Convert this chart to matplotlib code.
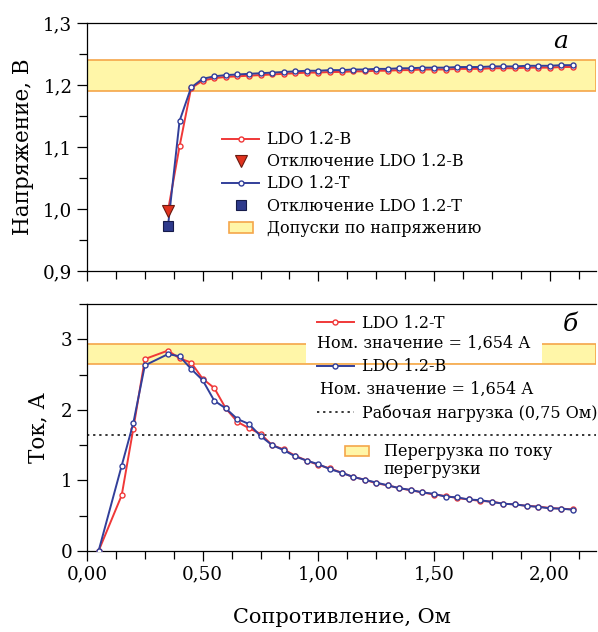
import matplotlib
matplotlib.use('Agg')
import matplotlib.pyplot as plt
from matplotlib.lines import Line2D
from matplotlib.patches import Patch, Rectangle
from matplotlib.legend import Legend
from matplotlib.legend_handler import HandlerPatch
from matplotlib.ticker import MultipleLocator, FuncFormatter

plt.rcParams['font.family'] = ['DejaVu Serif']

# верхний график: выходное напряжение
r_volt = [0.35, 0.40, 0.45, 0.50, 0.55, 0.60, 0.65, 0.70, 0.75, 0.80, 0.85, 0.90,
          0.95, 1.00, 1.05, 1.10, 1.15, 1.20, 1.25, 1.30, 1.35, 1.40, 1.45, 1.50,
          1.55, 1.60, 1.65, 1.70, 1.75, 1.80, 1.85, 1.90, 1.95, 2.00, 2.05, 2.10]
v_b = [0.997, 1.101, 1.195, 1.207, 1.211, 1.213, 1.214, 1.215, 1.216, 1.217, 1.218, 1.219,
       1.220, 1.220, 1.221, 1.221, 1.222, 1.222, 1.223, 1.223, 1.224, 1.224, 1.225, 1.225,
       1.225, 1.226, 1.226, 1.226, 1.227, 1.227, 1.227, 1.228, 1.228, 1.228, 1.229, 1.229]
v_t = [0.972, 1.142, 1.196, 1.210, 1.214, 1.216, 1.217, 1.218, 1.219, 1.220, 1.221, 1.222,
       1.223, 1.223, 1.224, 1.224, 1.225, 1.225, 1.226, 1.226, 1.227, 1.227, 1.228, 1.228,
       1.228, 1.229, 1.229, 1.229, 1.230, 1.230, 1.230, 1.231, 1.231, 1.231, 1.232, 1.232]
v_tol = (1.19, 1.24)

# нижний график: ток нагрузки
r_cur = [0.05, 0.15, 0.20, 0.25, 0.35, 0.40, 0.45, 0.50, 0.55, 0.60, 0.65, 0.70, 0.75, 0.80,
         0.85, 0.90, 0.95, 1.00, 1.05, 1.10, 1.15, 1.20, 1.25, 1.30, 1.35, 1.40, 1.45, 1.50,
         1.55, 1.60, 1.65, 1.70, 1.75, 1.80, 1.85, 1.90, 1.95, 2.00, 2.05, 2.10]
i_t = [0.0, 0.79, 1.73, 2.72, 2.84, 2.73, 2.67, 2.44, 2.31, 2.02, 1.83, 1.74, 1.66, 1.50,
       1.44, 1.35, 1.28, 1.22, 1.17, 1.11, 1.05, 1.01, 0.96, 0.93, 0.89, 0.86, 0.83, 0.80,
       0.78, 0.75, 0.73, 0.71, 0.70, 0.67, 0.66, 0.64, 0.63, 0.61, 0.60, 0.59]
i_b = [0.0, 1.21, 1.81, 2.63, 2.79, 2.76, 2.58, 2.42, 2.13, 2.02, 1.87, 1.80, 1.63, 1.50,
       1.43, 1.34, 1.28, 1.23, 1.16, 1.11, 1.05, 1.01, 0.97, 0.93, 0.89, 0.865, 0.83, 0.81,
       0.77, 0.76, 0.73, 0.72, 0.695, 0.67, 0.66, 0.64, 0.625, 0.605, 0.60, 0.585]
i_ovl = (2.65, 2.94)
i_work = 1.64

red = '#f03838'
blue = '#323f9a'
band_fc = '#fff6a8'
band_ec = '#f5a64a'
fs_tick = 13.2
fs_leg = 11.5


def small_box(legend, orig_handle, xdescent, ydescent, width, height, fontsize):
    return Rectangle((-xdescent + 0.17 * width, -ydescent), 0.66 * width, 0.95 * height)


def style_axes(ax):
    ax.spines['right'].set_visible(False)
    for s in ax.spines.values():
        s.set_linewidth(0.9)
    ax.set_xlim(0, 2.2)
    ax.xaxis.set_major_locator(MultipleLocator(0.5))
    ax.xaxis.set_minor_locator(MultipleLocator(0.125))
    ax.xaxis.set_major_formatter(FuncFormatter(lambda v, p: f'{v:.2f}'.replace('.', ',')))
    ax.tick_params(which='major', direction='out', length=7, width=0.9, labelsize=fs_tick, right=False)
    ax.tick_params(which='minor', direction='out', length=6, width=0.9, right=False)


def one_entry(ax, handle, label, x, y):
    leg = Legend(ax, [handle], [label], loc='center left', bbox_to_anchor=(x, y), frameon=False,
                 borderpad=0, borderaxespad=0, handlelength=2.3, handletextpad=0.5,
                 fontsize=fs_leg, handler_map={Patch: HandlerPatch(patch_func=small_box)})
    ax.add_artist(leg)
    return leg


fig = plt.figure(figsize=(5.98, 6.32), dpi=100)
ax1 = fig.add_axes([87 / 598, 1 - 271 / 632, 509 / 598, 248 / 632])
ax2 = fig.add_axes([87 / 598, 1 - 551 / 632, 509 / 598, 247 / 632])

# ---- а: напряжение ----
style_axes(ax1)
ax1.axhspan(v_tol[0], v_tol[1], facecolor=band_fc, edgecolor=band_ec, lw=1.2, zorder=1)
ax1.plot(r_volt, v_b, color=red, lw=1.4, marker='o', ms=3.6, mfc='white', mec=red, mew=1.0,
         markevery=slice(1, None), zorder=3)
ax1.plot(r_volt, v_t, color=blue, lw=1.4, marker='o', ms=3.6, mfc='white', mec=blue, mew=1.0,
         markevery=slice(1, None), zorder=3)
ax1.plot(r_volt[0], v_b[0], marker='v', ms=8, color='#e0321e', mec='#6a1a10', mew=0.8, ls='none', zorder=4)
ax1.plot(r_volt[0], v_t[0], marker='s', ms=6.5, color='#2e3a8c', mec='#161b4a', mew=0.8, ls='none', zorder=4)
ax1.set_ylim(0.9, 1.3)
ax1.yaxis.set_major_locator(MultipleLocator(0.1))
ax1.yaxis.set_minor_locator(MultipleLocator(0.05))
ax1.yaxis.set_major_formatter(FuncFormatter(lambda v, p: f'{v:.1f}'.replace('.', ',')))
ax1.tick_params(labelbottom=False)
ax1.set_ylabel('Напряжение, В', fontsize=15.5)
ax1.yaxis.set_label_coords(-0.104, 0.5)
ax1.text(0.93, 0.925, 'а', style='italic', fontsize=18, transform=ax1.transAxes, ha='center', va='center')

h_top = [
    Line2D([], [], color=red, lw=1.4, marker='o', ms=3.6, mfc='white', mec=red, mew=1.0),
    Line2D([], [], ls='none', marker='v', ms=8, color='#e0321e', mec='#6a1a10', mew=0.8),
    Line2D([], [], color=blue, lw=1.4, marker='o', ms=3.6, mfc='white', mec=blue, mew=1.0),
    Line2D([], [], ls='none', marker='s', ms=6.5, color='#2e3a8c', mec='#161b4a', mew=0.8),
    Patch(facecolor=band_fc, edgecolor=band_ec, lw=1.2),
]
l_top = ['LDO 1.2-B', 'Отключение LDO 1.2-B', 'LDO 1.2-T', 'Отключение LDO 1.2-T',
         'Допуски по напряжению']
ax1.legend(h_top, l_top, loc='center left', bbox_to_anchor=(0.266, 0.351), frameon=False,
           borderpad=0, borderaxespad=0, handlelength=2.3, handletextpad=0.5,
           labelspacing=0.32, fontsize=fs_leg,
           handler_map={Patch: HandlerPatch(patch_func=small_box)})

# ---- б: ток ----
style_axes(ax2)
ax2.axhspan(i_ovl[0], i_ovl[1], facecolor=band_fc, edgecolor=band_ec, lw=1.2, zorder=1)
ax2.axhline(i_work, color='black', lw=1.1, ls=(0, (1.5, 2.5)), zorder=2)
ax2.plot(r_cur, i_t, color=red, lw=1.4, marker='o', ms=3.6, mfc='white', mec=red, mew=1.0, zorder=3)
ax2.plot(r_cur, i_b, color=blue, lw=1.4, marker='o', ms=3.6, mfc='white', mec=blue, mew=1.0, zorder=3)
ax2.set_ylim(0, 3.5)
ax2.yaxis.set_major_locator(MultipleLocator(1))
ax2.yaxis.set_minor_locator(MultipleLocator(0.5))
ax2.yaxis.set_major_formatter(FuncFormatter(lambda v, p: f'{v:.0f}'))
ax2.set_ylabel('Ток, А', fontsize=15.5)
ax2.yaxis.set_label_coords(-0.073, 0.5)
ax2.set_xlabel('Сопротивление, Ом', fontsize=15)
ax2.xaxis.set_label_coords(0.5, -0.232)
ax2.text(0.95, 0.915, 'б', style='italic', fontsize=18, transform=ax2.transAxes, ha='center', va='center')

one_entry(ax2, Line2D([], [], color=red, lw=1.4, marker='o', ms=3.6, mfc='white', mec=red, mew=1.0),
          'LDO 1.2-T', 0.452, 0.923)
one_entry(ax2, Line2D([], [], color=blue, lw=1.4, marker='o', ms=3.6, mfc='white', mec=blue, mew=1.0),
          'LDO 1.2-B', 0.452, 0.745)
one_entry(ax2, Line2D([], [], color='black', lw=1.1, ls=(0, (1.5, 2.5))),
          'Рабочая нагрузка (0,75 Ом)', 0.452, 0.559)
one_entry(ax2, Patch(facecolor=band_fc, edgecolor=band_ec, lw=1.2),
          'Перегрузка по току', 0.495, 0.401)
ax2.text(0.583, 0.328, 'перегрузки', transform=ax2.transAxes, va='center', ha='left',
         fontsize=fs_leg, zorder=4)
ax2.text(0.452, 0.842, 'Ном. значение = 1,654 А', transform=ax2.transAxes, va='center', ha='left',
         fontsize=fs_leg, zorder=4, bbox=dict(facecolor='white', edgecolor='none', pad=8))
ax2.text(0.458, 0.656, 'Ном. значение = 1,654 А', transform=ax2.transAxes, va='center', ha='left',
         fontsize=fs_leg, zorder=4)

fig.savefig('out.png', dpi=100)
